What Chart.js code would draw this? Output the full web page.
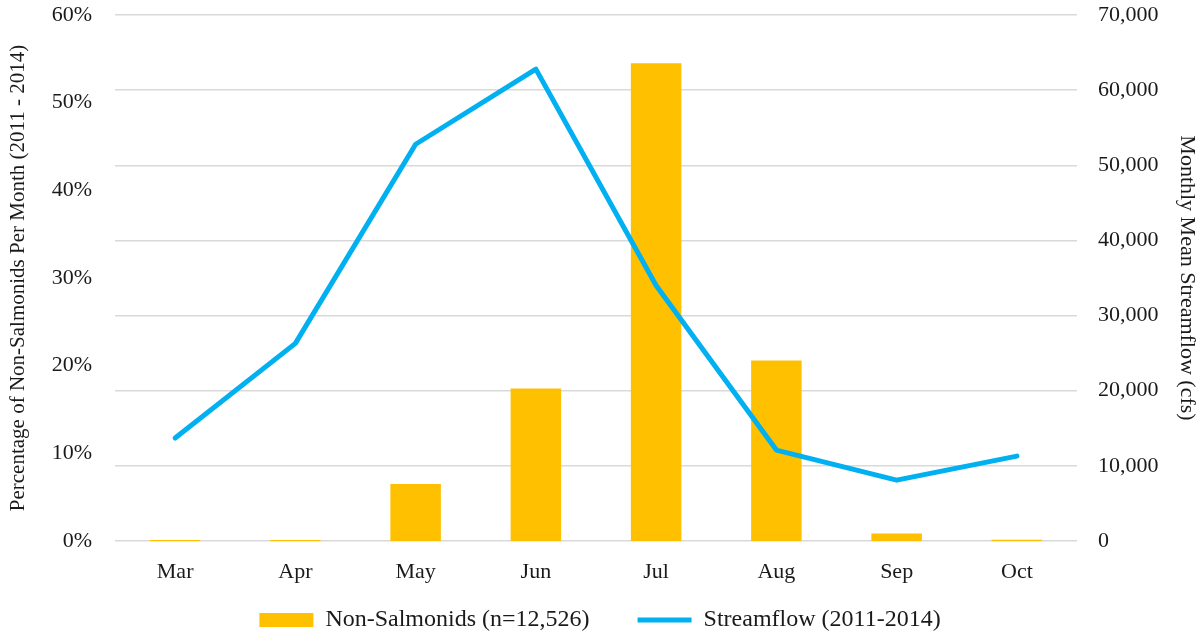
<!DOCTYPE html>
<html>
<head>
<meta charset="utf-8">
<script src="https://cdn.jsdelivr.net/npm/chart.js@4"></script>
<style>
  body { margin: 0; background: #fff; }
  #wrap { width: 1200px; height: 634px; }
</style>
</head>
<body>
<div id="wrap"><canvas id="flowChart"></canvas></div>
<script>
// Data
const months = ['Mar', 'Apr', 'May', 'Jun', 'Jul', 'Aug', 'Sep', 'Oct'];
const nonSalmonidPct = [0.1, 0.1, 6.5, 17.4, 54.5, 20.6, 0.85, 0.15];
const streamflowCfs = [13700, 26300, 52800, 62800, 34000, 12100, 8100, 11300];
const pctTicks = [0, 10, 20, 30, 40, 50, 60];
const flowTicks = [0, 10000, 20000, 30000, 40000, 50000, 60000, 70000];

const font = 'Liberation Serif, Times New Roman, serif';
const ink = '#1a1a1a';

// legend takes little room in the layout but keeps a wide gap between items
const legendPlace = {
    id: 'legendPlace',
    beforeLayout(chart) {
        const leg = chart.legend;
        if (leg && !leg._patched) {
            const fit = leg.fit;
            leg.fit = function() {
                fit.call(this);
                this.height = 50;
            };
            leg._patched = true;
        }
    },
    afterLayout(chart) {
        const leg = chart.legend;
        if (leg) leg.top = leg.bottom - 74;
    }
};

const noEdgePad = s => { s.paddingTop = 0; s.paddingBottom = 0; };

document.addEventListener('DOMContentLoaded', function() {
    const ctx = document.getElementById('flowChart').getContext('2d');

    new Chart(ctx, {
        type: 'bar',
        data: {
            labels: months,
            datasets: [
                {
                    type: 'bar',
                    label: 'Non-Salmonids (n=12,526)',
                    data: nonSalmonidPct,
                    backgroundColor: '#FFC000',
                    borderWidth: 0,
                    yAxisID: 'y',
                    order: 2,
                    pointStyle: 'rect',
                    categoryPercentage: 1,
                    barPercentage: 0.42
                },
                {
                    type: 'line',
                    label: 'Streamflow (2011-2014)',
                    data: streamflowCfs,
                    borderColor: '#00B0F0',
                    backgroundColor: '#00B0F0',
                    borderWidth: 5,
                    borderCapStyle: 'round',
                    borderJoinStyle: 'round',
                    pointRadius: 0,
                    pointStyle: 'line',
                    tension: 0,
                    yAxisID: 'y1',
                    order: 1
                }
            ]
        },
        plugins: [legendPlace],
        options: {
            responsive: true,
            maintainAspectRatio: false,
            animation: false,
            layout: { padding: { top: 15, bottom: 0, left: 0, right: 0 } },
            plugins: {
                tooltip: { enabled: false },
                legend: {
                    position: 'bottom',
                    labels: {
                        usePointStyle: true,
                        pointStyleWidth: 54,
                        boxHeight: 14,
                        padding: 48,
                        color: ink,
                        font: { family: font, size: 24 },
                        sort: (a, b) => a.datasetIndex - b.datasetIndex
                    }
                }
            },
            scales: {
                x: {
                    grid: { display: false, drawTicks: false },
                    border: { display: false },
                    ticks: { padding: 18, color: ink, font: { family: font, size: 22 } },
                    afterFit: s => { s.height = 43; }
                },
                y: {
                    position: 'left',
                    min: 0,
                    max: 60,
                    afterBuildTicks: s => { s.ticks = pctTicks.map(v => ({ value: v })); },
                    grid: { display: false, drawTicks: false },
                    border: { display: false },
                    ticks: { padding: 23, color: ink, font: { family: font, size: 22 }, callback: v => v + '%' },
                    title: {
                        display: true,
                        text: 'Percentage of Non-Salmonids Per Month (2011 - 2014)',
                        color: ink,
                        font: { family: font, size: 21 },
                        padding: { top: 6, bottom: 0 }
                    },
                    afterFit: s => { s.width = 115; noEdgePad(s); }
                },
                y1: {
                    position: 'right',
                    min: 0,
                    max: 70000,
                    afterBuildTicks: s => { s.ticks = flowTicks.map(v => ({ value: v })); },
                    grid: { drawOnChartArea: true, drawTicks: false, color: '#d9d9d9', lineWidth: 1.5 },
                    border: { display: false },
                    ticks: {
                        padding: 21,
                        color: ink,
                        font: { family: font, size: 22 },
                        callback: v => v.toLocaleString('en-US')
                    },
                    title: {
                        display: true,
                        text: 'Monthly Mean Streamflow (cfs)',
                        color: ink,
                        font: { family: font, size: 22 },
                        padding: { top: 0, bottom: 1 }
                    },
                    afterFit: s => { s.width = 123; noEdgePad(s); }
                }
            }
        }
    });
});
</script>
</body>
</html>
